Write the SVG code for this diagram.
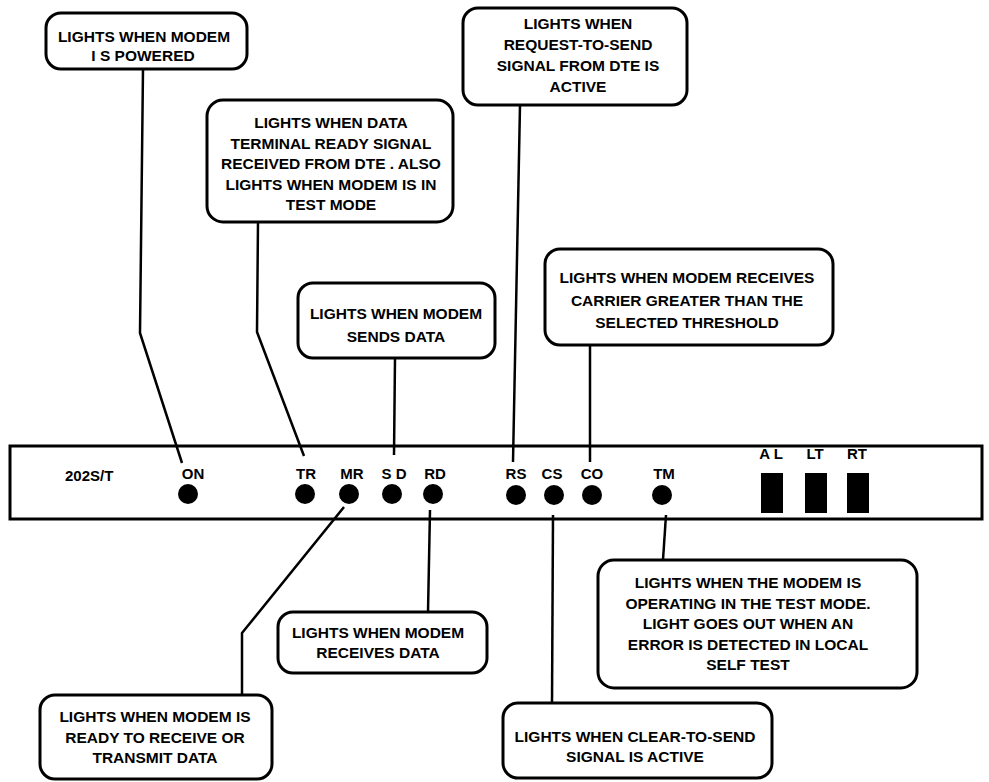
<svg xmlns="http://www.w3.org/2000/svg" width="989" height="782" viewBox="0 0 989 782">
<style>
.box{fill:#fff;stroke:#000;stroke-width:3}
.panel{fill:#fff;stroke:#000;stroke-width:3}
.t{font-family:"Liberation Sans",Arial,sans-serif;font-weight:bold;font-size:15.5px;fill:#000;text-anchor:middle}
.lbl{font-family:"Liberation Sans",Arial,sans-serif;font-weight:bold;font-size:15px;fill:#000;text-anchor:middle}
.led{fill:#000}
.sw{fill:#000}
.c{fill:none;stroke:#000;stroke-width:2.5;stroke-linejoin:round}
</style>
<rect width="989" height="782" fill="#fff"/>

<g id="panel">
  <rect class="panel" x="10" y="446" width="972" height="73"/>
  <text x="65" y="481" style="font-family:'Liberation Sans',Arial,sans-serif;font-weight:bold;font-size:15px">202S/T</text>
</g>
<g id="led-on"><text class="lbl" x="193" y="479">ON</text><circle class="led" cx="188" cy="494" r="10"/></g>
<g id="led-tr"><text class="lbl" x="306" y="479">TR</text><circle class="led" cx="305" cy="494" r="10"/></g>
<g id="led-mr"><text class="lbl" x="352" y="479">MR</text><circle class="led" cx="349" cy="494" r="10"/></g>
<g id="led-sd"><text class="lbl" x="394" y="479">S D</text><circle class="led" cx="392" cy="494" r="10"/></g>
<g id="led-rd"><text class="lbl" x="435" y="479">RD</text><circle class="led" cx="433" cy="494" r="10"/></g>
<g id="led-rs"><text class="lbl" x="516" y="479">RS</text><circle class="led" cx="516" cy="495" r="10"/></g>
<g id="led-cs"><text class="lbl" x="552" y="479">CS</text><circle class="led" cx="554" cy="495" r="10"/></g>
<g id="led-co"><text class="lbl" x="592" y="479">CO</text><circle class="led" cx="592" cy="495" r="10"/></g>
<g id="led-tm"><text class="lbl" x="664" y="479">TM</text><circle class="led" cx="662" cy="495" r="10"/></g>
<g id="sw-al"><text class="lbl" x="771" y="459">A L</text><rect class="sw" x="761" y="473" width="22" height="40"/></g>
<g id="sw-lt"><text class="lbl" x="815" y="459">LT</text><rect class="sw" x="805" y="473" width="22" height="40"/></g>
<g id="sw-rt"><text class="lbl" x="857" y="459">RT</text><rect class="sw" x="847" y="473" width="22" height="40"/></g>

<g id="connectors">
  <polyline class="c" points="143,69 140,333 182,463"/>
  <polyline class="c" points="258,222 257,332 304,456"/>
  <polyline class="c" points="520,105 513,462"/>
  <polyline class="c" points="395,358 394,455"/>
  <polyline class="c" points="590,345 590,462"/>
  <polyline class="c" points="344,507 242,633 242,695"/>
  <polyline class="c" points="430,510 428,612"/>
  <polyline class="c" points="553,515 552,703"/>
  <polyline class="c" points="666,515 663,560"/>
</g>

<g id="note-on">
  <rect class="box" x="46" y="13" width="201" height="56" rx="15"/>
  <text class="t" x="144" y="42">LIGHTS WHEN MODEM</text>
  <text class="t" x="143" y="61">I S POWERED</text>
</g>
<g id="note-tr">
  <rect class="box" x="207" y="100" width="246" height="122" rx="16"/>
  <text class="t" x="331" y="128">LIGHTS WHEN DATA</text>
  <text class="t" x="331" y="149">TERMINAL READY SIGNAL</text>
  <text class="t" x="331" y="169">RECEIVED FROM DTE . ALSO</text>
  <text class="t" x="331" y="190">LIGHTS WHEN MODEM IS IN</text>
  <text class="t" x="331" y="210">TEST MODE</text>
</g>
<g id="note-rs">
  <rect class="box" x="463" y="8" width="224" height="97" rx="15"/>
  <text class="t" x="578" y="29">LIGHTS WHEN</text>
  <text class="t" x="578" y="50">REQUEST-TO-SEND</text>
  <text class="t" x="578" y="71">SIGNAL FROM DTE IS</text>
  <text class="t" x="578" y="92">ACTIVE</text>
</g>
<g id="note-sd">
  <rect class="box" x="298" y="283" width="197" height="75" rx="15"/>
  <text class="t" x="396" y="319">LIGHTS WHEN MODEM</text>
  <text class="t" x="396" y="342">SENDS DATA</text>
</g>
<g id="note-co">
  <rect class="box" x="545" y="249" width="288" height="96" rx="15"/>
  <text class="t" x="687" y="283">LIGHTS WHEN MODEM  RECEIVES</text>
  <text class="t" x="687" y="306">CARRIER GREATER  THAN THE</text>
  <text class="t" x="687" y="328">SELECTED THRESHOLD</text>
</g>
<g id="note-mr">
  <rect class="box" x="40" y="695" width="232" height="84" rx="15"/>
  <text class="t" x="155" y="722">LIGHTS  WHEN MODEM IS</text>
  <text class="t" x="155" y="743">READY TO RECEIVE  OR</text>
  <text class="t" x="155" y="763">TRANSMIT DATA</text>
</g>
<g id="note-rd">
  <rect class="box" x="278" y="612" width="209" height="61" rx="15"/>
  <text class="t" x="378" y="638">LIGHTS WHEN  MODEM</text>
  <text class="t" x="378" y="658">RECEIVES  DATA</text>
</g>
<g id="note-cs">
  <rect class="box" x="503" y="703" width="269" height="75" rx="15"/>
  <text class="t" x="635" y="742">LIGHTS WHEN CLEAR-TO-SEND</text>
  <text class="t" x="635" y="762">SIGNAL IS ACTIVE</text>
</g>
<g id="note-tm">
  <rect class="box" x="598" y="560" width="319" height="128" rx="16"/>
  <text class="t" x="748" y="588">LIGHTS WHEN THE  MODEM IS</text>
  <text class="t" x="748" y="609">OPERATING IN THE TEST MODE.</text>
  <text class="t" x="748" y="629">LIGHT GOES OUT WHEN AN</text>
  <text class="t" x="748" y="650">ERROR IS DETECTED IN LOCAL</text>
  <text class="t" x="748" y="670">SELF TEST</text>
</g>
</svg>
